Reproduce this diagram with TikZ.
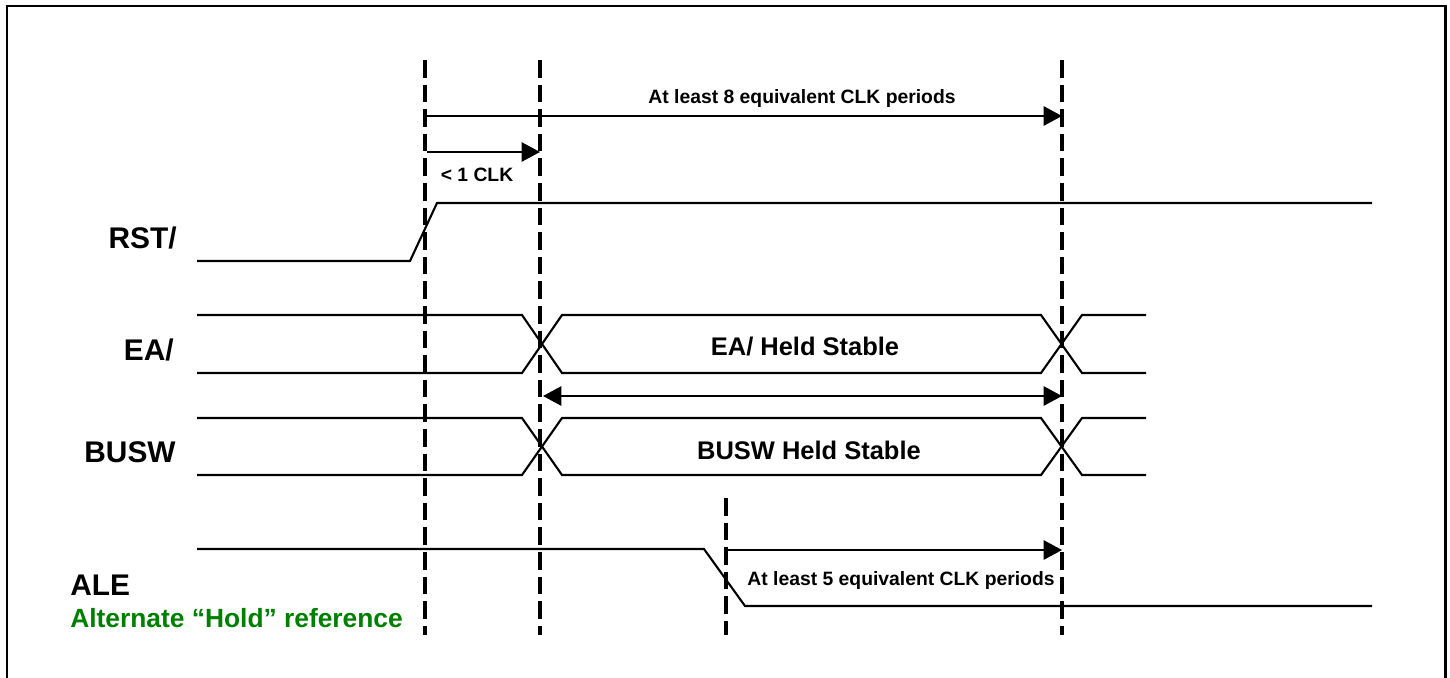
\documentclass[tikz,border=0pt]{standalone}
\usepackage{fontspec}
\setmainfont{Liberation Sans}
\usetikzlibrary{arrows.meta}
\definecolor{holdgreen}{RGB}{0,128,0}
\tikzset{
  sig/.style={line width=1.2pt, line join=miter},
  marker/.style={line width=2pt, dash pattern=on 10pt off 4pt},
  dimarrow/.style={line width=1.2pt, -{Triangle[length=10.5pt,width=11pt]}},
  botharrow/.style={line width=1.2pt, {Triangle[length=10.5pt,width=11pt]}-{Triangle[length=10.5pt,width=11pt]}},
  signame/.style={font=\bfseries\fontsize{17}{20}\selectfont, inner sep=0pt},
  note/.style={font=\bfseries\fontsize{11}{13}\selectfont, inner sep=0pt, anchor=base},
  held/.style={font=\bfseries\fontsize{14.5}{17}\selectfont, inner sep=0pt, anchor=base},
}
\begin{document}
\begin{tikzpicture}[x=0.02cm,y=-0.02cm]
  \useasboundingbox (0,0) rectangle (1450,677);
  \draw[line width=1.7pt] (7,690) -- (7,6) -- (1445,6) -- (1445,690);
% the dashed reference lines
  \coordinate (rstA) at (425,60);   \coordinate (rstB) at (425,635);
  \coordinate (latA) at (540,60);   \coordinate (latB) at (540,635);
  \coordinate (endA) at (1062,60);  \coordinate (endB) at (1062,635);
  \coordinate (aleA) at (726,498);  \coordinate (aleB) at (726,635);
  \draw[marker] (rstA) -- (rstB);
  \draw[marker] (latA) -- (latB);
  \draw[marker] (endA) -- (endB);
  \draw[marker] (aleA) -- (aleB);
% the signals
  \draw[sig] (197,261) -- (410,261) -- (437,203) -- (1372,203);
  \draw[sig] (197,315) -- (522,315) -- (562,373) -- (1041,373) -- (1082,315) -- (1146,315);
  \draw[sig] (197,373) -- (522,373) -- (562,315) -- (1041,315) -- (1082,373) -- (1146,373);
  \draw[sig] (197,418) -- (522,418) -- (562,475) -- (1041,475) -- (1082,418) -- (1146,418);
  \draw[sig] (197,475) -- (522,475) -- (562,418) -- (1041,418) -- (1082,475) -- (1146,475);
  \draw[sig] (197,549) -- (704,549) -- (745,606) -- (1372,606);
% signal names
  \node[signame, anchor=base east] (rst) at (177,248) {RST/};
  \node[signame, anchor=base east] (ea) at (174,360) {EA/};
  \node[signame, anchor=base east] (busw) at (176,462) {BUSW};
  \node[signame, anchor=base west] (ale) at (70,595) {ALE};
  \node[signame, anchor=base west, text=holdgreen, font=\bfseries\fontsize{15}{18}\selectfont] (alt) at (70,627) {Alternate “Hold” reference};
% timing arrows
  \coordinate (p8a) at (427,116);  \coordinate (p8b) at (1062,116);
  \coordinate (p1a) at (427,152);  \coordinate (p1b) at (540,152);
  \coordinate (pha) at (543,396);  \coordinate (phb) at (1062,396);
  \coordinate (p5a) at (727,550);  \coordinate (p5b) at (1062,550);
  \draw[dimarrow] (p8a) -- (p8b);
  \draw[dimarrow] (p1a) -- (p1b);
  \draw[botharrow] (pha) -- (phb);
  \draw[dimarrow] (p5a) -- (p5b);
  \node[note] (n8) at (802,103) {At least 8 equivalent CLK periods};
  \node[note] (n1) at (477,181) {< 1 CLK};
  \node[note] (n5) at (901,585) {At least 5 equivalent CLK periods};
  \node[held] (eahold) at (805,355) {EA/ Held Stable};
  \node[held] (buswhold) at (809,459) {BUSW Held Stable};
\end{tikzpicture}
\end{document}
